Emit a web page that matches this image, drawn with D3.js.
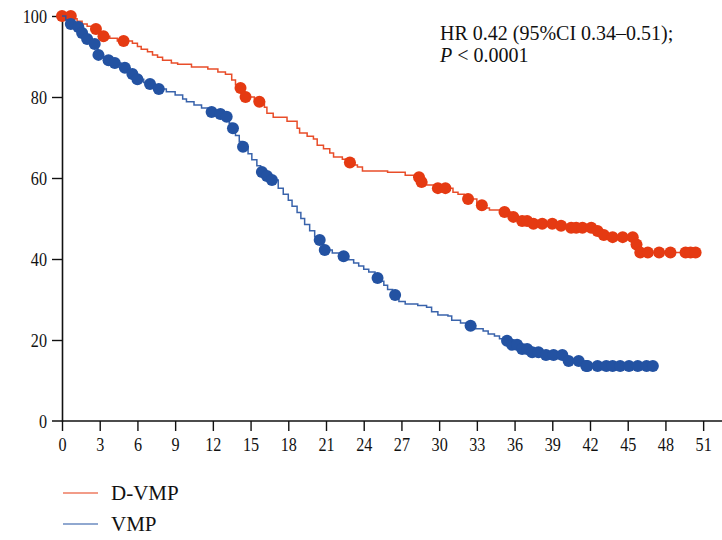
<!DOCTYPE html>
<html><head><meta charset="utf-8">
<script src="https://cdn.jsdelivr.net/npm/d3@7"></script>
<style>body{margin:0;background:#fff}svg{display:block}text{font-family:"Liberation Serif","Times New Roman",serif;fill:#111}</style>
</head><body><svg id="c" width="722" height="540"></svg>
<script>
// Kaplan-Meier step points [month, survival %]
const dvmpSteps = [[0,100],[0.8,99.3],[1.2,98.7],[1.6,98.0],[2.0,97.5],[2.4,96.8],[2.9,95.8],[3.2,95.0],[3.8,94.5],[4.4,93.8],[5.6,93.3],[6.0,92.5],[6.3,91.8],[6.8,91.2],[7.2,90.4],[7.6,89.8],[8.0,89.1],[8.7,88.4],[9.2,88.1],[10.3,87.4],[11.6,86.9],[12.4,86.2],[13.0,85.6],[13.5,84.2],[13.8,83.0],[14.0,82.2],[14.5,80.0],[15.3,78.8],[16.1,77.5],[16.3,76.0],[16.8,75.0],[17.9,74.0],[18.7,72.3],[18.9,71.1],[19.5,70.3],[20.0,69.6],[20.3,68.1],[20.8,67.2],[21.3,66.2],[21.6,65.2],[22.3,64.6],[22.6,63.8],[23.3,63.2],[23.5,62.7],[23.9,61.7],[25.9,61.4],[27.3,60.7],[28.0,60.2],[28.5,59.0],[29.0,58.3],[29.6,57.5],[31.1,56.5],[31.5,56.0],[32.0,54.8],[33.0,53.3],[33.6,52.6],[34.0,52.1],[35.0,51.6],[35.7,50.4],[36.4,49.4],[37.3,48.7],[39.5,48.2],[40.3,47.7],[42.4,46.9],[42.9,45.9],[43.5,45.4],[45.6,43.6],[45.9,41.6]];
const dvmpCensor = [0,0.7,2.7,3.3,4.9,14.2,14.6,15.7,22.9,28.4,28.6,29.9,30.5,32.3,33.4,35.2,35.9,36.6,37.0,37.5,38.2,39.0,39.7,40.5,40.9,41.4,42.1,42.6,43.1,43.8,44.6,45.4,45.7,46.0,46.6,47.5,48.4,49.6,50.0,50.4];

const vmpSteps = [[0,100],[0.3,99],[0.6,98.0],[1.0,97.3],[1.5,95.8],[1.9,94.3],[2.4,93.1],[2.8,90.4],[3.3,89.8],[3.6,89.1],[4.1,88.4],[4.7,87.2],[5.4,85.7],[5.9,84.4],[6.5,83.6],[6.9,83.2],[7.4,82.0],[8.3,81.3],[9.0,80.5],[9.6,79.5],[9.9,78.8],[10.5,78.0],[11.1,77.3],[11.6,76.3],[12.3,75.8],[12.9,75.1],[13.3,73.5],[13.5,72.3],[13.8,70.5],[14.1,69.0],[14.3,67.7],[14.8,66.0],[15.1,64.5],[15.5,63.0],[15.8,61.5],[16.1,60.5],[16.5,59.5],[17.2,57.5],[17.6,56.0],[18.0,54.5],[18.3,53.0],[18.7,51.5],[19.0,50.0],[19.3,48.5],[19.7,47.0],[20.1,45.5],[20.4,44.7],[20.8,42.2],[21.5,41.5],[22.3,40.7],[22.8,39.8],[23.2,39.0],[23.6,38.3],[24.0,37.5],[24.4,36.8],[24.9,35.3],[25.3,34.5],[25.6,33.5],[25.9,32.5],[26.3,31.1],[26.8,29.5],[27.3,28.9],[28.3,28.5],[29.0,28.1],[29.4,27.0],[29.9,26.2],[30.7,25.9],[31.0,24.9],[31.7,24.2],[32.3,23.5],[32.9,22.8],[33.5,22.2],[33.9,21.5],[34.4,21.0],[34.8,20.3],[35.1,19.8],[35.6,18.8],[36.4,17.8],[37.2,17.0],[38.3,16.3],[40.1,14.8],[41.7,13.6]];
const vmpCensor = [0.7,1.3,1.6,2.0,2.6,2.9,3.7,4.2,5.0,5.6,6.0,7.0,7.7,11.9,12.6,13.1,13.6,14.4,15.9,16.3,16.7,20.5,20.9,22.4,25.1,26.5,32.5,35.4,35.8,36.2,36.6,37.0,37.4,37.9,38.5,39.1,39.8,40.3,41.1,41.7,41.8,42.6,43.3,43.8,44.4,45.1,45.8,46.5,47.0];

const xTicks = [0,3,6,9,12,15,18,21,24,27,30,33,36,39,42,45,48,51];
const yTicks = [0,20,40,60,80,100];
const seriesNames = ["D-VMP","VMP"];
const seriesColors = ["#e53a12","#2352a2"];
const annotation = ["HR 0.42 (95%CI 0.34\u20130.51);", "< 0.0001"];

const svg = d3.select("#c");
const x = d3.scaleLinear().domain([0,52.5]).range([62,722]);
const y = d3.scaleLinear().domain([0,100]).range([421,16]);
const sx = 0.85;

// axes
const gx = svg.append("g").attr("transform","translate(0,421)")
  .call(d3.axisBottom(x).tickValues(xTicks).tickSize(10).tickPadding(7).tickSizeOuter(0));
gx.select(".domain").attr("d","M52,0H722");
const gy = svg.append("g").attr("transform","translate(62,0)")
  .call(d3.axisLeft(y).tickValues(yTicks).tickSize(10).tickPadding(5).tickSizeOuter(0));
svg.selectAll(".domain").attr("stroke","#111").attr("stroke-width",1.6);
svg.selectAll(".tick line").attr("stroke","#111").attr("stroke-width",1.4);
svg.selectAll(".tick text").attr("font-size",19).attr("font-family","Liberation Serif").attr("fill","#111")
  .attr("transform",`scale(${sx},1)`);
gy.selectAll(".tick text").attr("x",-15/sx);
gy.selectAll(".tick").filter(d=>d===0).select("line").remove();

const line = d3.line().x(d=>x(d[0])).y(d=>y(d[1])).curve(d3.curveStepAfter);
function survAt(steps,t){const i=d3.bisector(d=>d[0]).right(steps,t)-1;return steps[Math.max(0,i)][1];}

[[dvmpSteps,dvmpCensor],[vmpSteps,vmpCensor]].forEach(([steps,cens],k)=>{
  const last = d3.max(cens);
  const pts = steps.concat([[Math.max(last,steps[steps.length-1][0]), steps[steps.length-1][1]]]);
  svg.append("path").attr("d",line(pts)).attr("fill","none")
    .attr("stroke",seriesColors[k]).attr("stroke-width",1.5).attr("opacity",0.9);
  svg.append("g").selectAll("circle").data(cens).join("circle")
    .attr("cx",d=>x(d)).attr("cy",d=>y(survAt(steps,d))).attr("r",6)
    .attr("fill",seriesColors[k]);
});

// annotation
svg.append("text").attr("x",440).attr("y",40).attr("font-size",20).text(annotation[0]);
const t2 = svg.append("text").attr("x",440).attr("y",62).attr("font-size",20);
t2.append("tspan").attr("font-style","italic").text("P");
t2.append("tspan").text(" " + annotation[1]);

// legend
seriesNames.forEach((n,i)=>{
  const yy = 493 + i*31;
  svg.append("line").attr("x1",63).attr("x2",98).attr("y1",yy).attr("y2",yy)
    .attr("stroke",seriesColors[i]).attr("stroke-width",1.2);
  svg.append("text").attr("x",111).attr("y",yy+6.5).attr("font-size",21).text(n);
});
</script></body></html>
